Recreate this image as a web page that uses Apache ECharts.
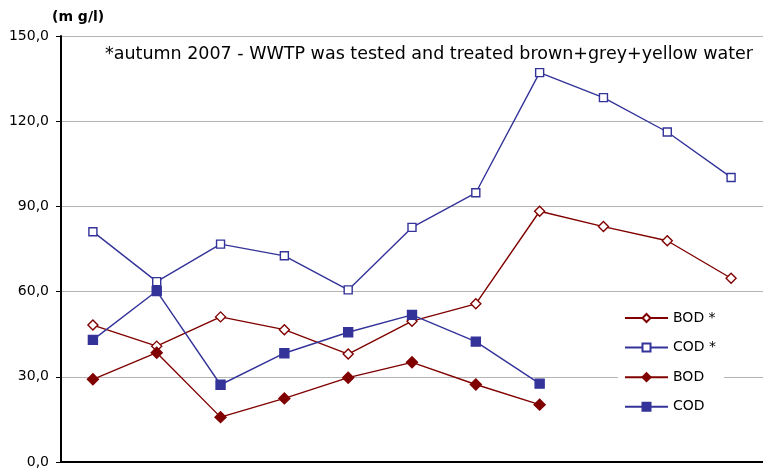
<!DOCTYPE html>
<html>
<head>
<meta charset="utf-8">
<script src="https://cdn.jsdelivr.net/npm/echarts@6/dist/echarts.min.js"></script>
<style>html,body{margin:0;padding:0;background:#fff}#c{width:763px;height:469px}</style>
</head>
<body>
<div id="c"></div>
<script>
const categories = ['1','2','3','4','5','6','7','8','9','10','11'];
const bodStar = [48.2, 40.8, 51.1, 46.6, 38.0, 49.6, 55.7, 88.3, 82.9, 77.9, 64.7];
const codStar = [81.1, 63.5, 76.7, 72.6, 60.6, 82.6, 94.8, 137.1, 128.3, 116.2, 100.2];
const bod = [29.1, 38.5, 15.8, 22.4, 29.7, 35.1, 27.3, 20.2, null, null, null];
const cod = [43.0, 60.2, 27.2, 38.3, 45.7, 51.8, 42.4, 27.6, null, null, null];
const seriesNames = ['BOD *', 'COD *', 'BOD', 'COD'];
const yTicks = [0, 30, 60, 90, 120, 150];
const unitLabel = '(m g/l)';
const note = '*autumn 2007 - WWTP was tested and treated brown+grey+yellow water';

const RED = '#800000', BLUE = '#333399';
const FONT = 'DejaVu Sans';
const chart = echarts.init(document.getElementById('c'), null, {renderer: 'canvas'});
function mk(name, data, color, symbol, size, filled) {
  return {
    name, type: 'line', data, symbol, symbolSize: size, showSymbol: true,
    lineStyle: {color, width: 1.4},
    itemStyle: {color: filled ? color : '#fff', borderColor: color, borderWidth: 1.4},
    emphasis: {disabled: true}, animation: false, connectNulls: false
  };
}
chart.setOption({
  animation: false,
  textStyle: {fontFamily: FONT},
  grid: {left: 61, top: 36, width: 707, height: 426, containLabel: false},
  xAxis: {
    type: 'category', data: categories, boundaryGap: true,
    axisLine: {lineStyle: {color: '#000', width: 2}},
    axisTick: {show: false}, axisLabel: {show: false}, splitLine: {show: false}
  },
  yAxis: {
    type: 'value', min: yTicks[0], max: yTicks[yTicks.length - 1], interval: 30,
    axisLine: {show: true, lineStyle: {color: '#000', width: 2}},
    axisTick: {show: true, inside: false, length: 5, lineStyle: {color: '#000', width: 1}},
    axisLabel: {margin: 12, color: '#000', fontSize: 14, fontFamily: FONT,
      formatter: v => v.toFixed(1).replace('.', ',')},
    splitLine: {show: true, lineStyle: {color: '#b4b4b4', width: 1}}
  },
  legend: {
    orient: 'vertical', left: 618, top: 306,
    backgroundColor: '#fff', padding: [5, 8, 5, 6],
    itemWidth: 43, itemHeight: 10, itemGap: 15.6,
    textStyle: {fontSize: 14, fontFamily: FONT, color: '#000'},
    data: seriesNames
  },
  graphic: [
    {type: 'text', left: 52, top: 10, style: {text: unitLabel, font: 'bold 14px "DejaVu Sans"', fill: '#000'}},
    {type: 'text', left: 105, top: 45, style: {text: note, font: '17.5px "DejaVu Sans"', fill: '#000'}}
  ],
  series: [
    mk(seriesNames[0], bodStar, RED, 'diamond', 10, false),
    mk(seriesNames[1], codStar, BLUE, 'rect', 8, false),
    mk(seriesNames[2], bod, RED, 'diamond', 11, true),
    mk(seriesNames[3], cod, BLUE, 'rect', 9, true)
  ]
});
</script>
</body>
</html>
